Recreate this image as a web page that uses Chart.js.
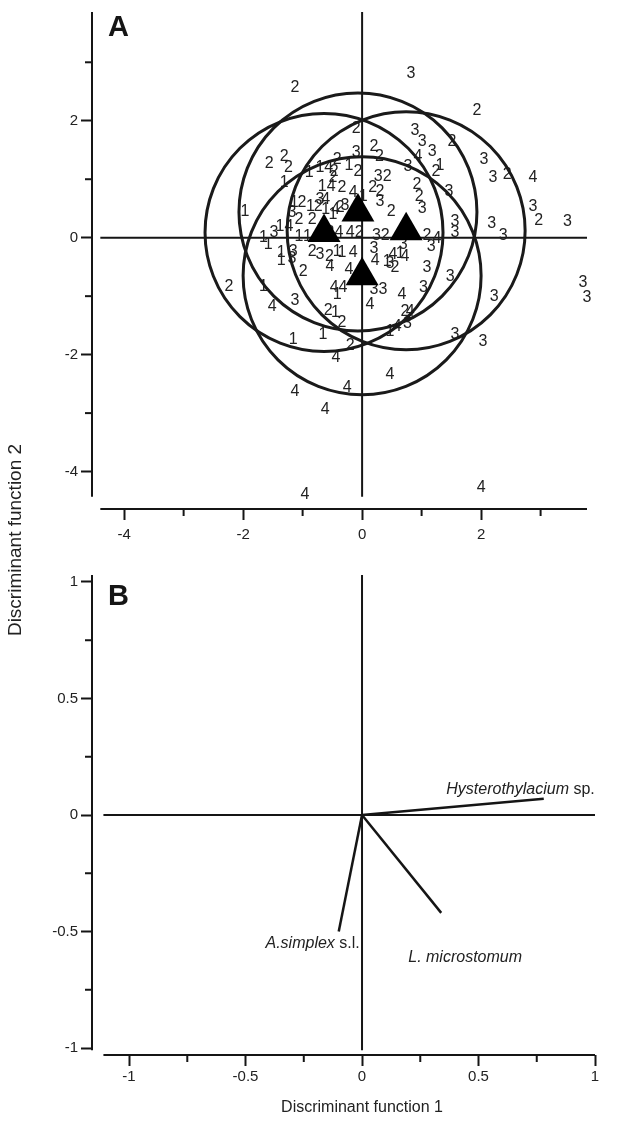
<!DOCTYPE html>
<html>
<head>
<meta charset="utf-8">
<script src="https://cdn.jsdelivr.net/npm/chart.js@4.4.1/dist/chart.umd.min.js"></script>
<style>
  body { margin: 0; background: #fff; }
  #wrap { position: relative; width: 622px; height: 1124px; }
  canvas { position: absolute; left: 0; top: 0; }
</style>
</head>
<body>
<div id="wrap">
  <canvas id="chartA" width="622" height="560"></canvas>
  <canvas id="chartB" width="622" height="1124"></canvas>
</div>
<script>
// ---- panel A: discriminant scores, [function 1, function 2] per fish, by group
const group1 = [
  [-1.31, 0.94], [-0.89, 1.11], [-0.71, 1.20], [-0.22, 1.23], [-0.67, 0.87], [0.02, 0.70],
  [-1.14, 0.60], [-0.87, 0.53], [-0.49, 0.39], [-1.97, 0.44], [-0.61, 0.48], [-1.38, 0.19],
  [-1.06, 0.02], [-0.92, 0.02], [-1.66, 0.00], [-1.58, -0.12], [-1.36, -0.26], [-1.36, -0.39],
  [-0.42, -0.24], [-0.34, -0.26], [-0.42, -0.97], [-1.66, -0.84], [-0.45, -1.28], [-0.66, -1.66],
  [-1.16, -1.74], [0.64, -0.27], [0.42, -0.41], [1.31, 1.23], [0.47, -1.61]
];
const group2 = [
  [-1.13, 2.56], [1.93, 2.17], [-0.10, 1.86], [0.20, 1.56], [0.29, 1.38], [-1.56, 1.26],
  [-1.31, 1.38], [-1.24, 1.20], [-0.47, 1.13], [-0.42, 1.33], [-0.07, 1.13], [-0.49, 1.03],
  [-0.34, 0.85], [0.18, 0.85], [0.30, 0.79], [0.49, 0.44], [0.42, 1.04], [-1.01, 0.60],
  [-0.74, 0.53], [-1.06, 0.31], [-0.84, 0.31], [-0.37, 0.51], [-0.54, 0.09], [-0.05, 0.09],
  [-0.84, -0.24], [-0.55, -0.32], [-0.99, -0.58], [-2.24, -0.84], [-0.57, -1.25], [-0.34, -1.45],
  [-0.20, -1.85], [0.92, 0.91], [0.96, 0.70], [1.51, 1.64], [1.24, 1.13], [2.44, 1.08],
  [2.97, 0.29], [0.39, 0.03], [1.09, 0.03], [0.55, -0.51], [0.72, -1.26]
];
const group3 = [
  [0.82, 2.80], [-0.10, 1.45], [0.30, 0.62], [0.27, 1.04], [-1.18, 0.43], [-0.71, 0.65],
  [-0.29, 0.55], [-1.48, 0.09], [-1.16, -0.24], [-1.18, -0.36], [-0.71, -0.29], [-1.13, -1.08],
  [0.20, -0.89], [0.35, -0.89], [0.77, 1.21], [1.01, 0.50], [0.24, 0.03], [1.16, -0.15],
  [0.20, -0.19], [0.47, -0.44], [0.69, -0.12], [1.09, -0.51], [1.48, -0.67], [1.03, -0.85],
  [1.56, 0.27], [1.56, 0.09], [0.89, 1.83], [1.01, 1.64], [1.18, 1.47], [1.46, 0.79],
  [2.05, 1.33], [2.20, 1.03], [2.87, 0.53], [3.45, 0.27], [2.18, 0.24], [2.37, 0.03],
  [2.22, -1.01], [1.56, -1.66], [2.03, -1.78], [3.71, -0.77], [3.78, -1.03], [0.76, -1.47]
];
const group4 = [
  [-0.56, 1.20], [-0.52, 0.87], [-0.61, 0.65], [-0.15, 0.77], [-1.23, 0.19], [-0.39, 0.09],
  [-0.20, 0.09], [-0.54, -0.50], [-0.15, -0.26], [-0.47, -0.85], [-0.32, -0.85], [-1.51, -1.18],
  [0.13, -1.15], [0.22, -0.39], [0.52, -0.29], [0.72, -0.32], [1.26, -0.02], [0.67, -0.97],
  [0.81, -1.26], [0.59, -1.52], [0.47, -2.34], [0.94, 1.38], [2.87, 1.03], [-0.44, -2.05],
  [-0.25, -2.56], [-1.13, -2.63], [-0.62, -2.94], [-0.96, -4.39], [2.00, -4.27], [-0.45, 0.48],
  [-0.22, -0.55]
];
const groups = [group1, group2, group3, group4];

// group centroids (triangles) and circle radii, discriminant units
const centroidX = [-0.64, -0.07, 0.74, 0.00];
const centroidY = [0.09, 0.44, 0.12, -0.65];
const circleR = [2.0, 2.0, 2.0, 2.0];

const ticksA = [-4, -2, 0, 2];
const minorA = [-3, -1, 1, 3];

// ---- panel B: variable loadings
const varNames = ['Hysterothylacium', 'A.simplex', 'L. microstomum'];
const varSuffix = [' sp.', ' s.l.', ''];
const loadX = [0.78, -0.10, 0.34];
const loadY = [0.07, -0.50, -0.42];

const ticksB = [-1, -0.5, 0, 0.5, 1];
const minorB = [-0.75, -0.25, 0.25, 0.75];

const FONT = '"Liberation Sans", Arial, sans-serif';
const INK = '#151515';

// axis lines, zero lines, minor ticks, panel letter, titles
const framePlugin = {
  id: 'frame',
  beforeDatasetsDraw(chart, args, o) {
    const { ctx, chartArea: a, scales: { x, y } } = chart;
    const px = v => x.getPixelForValue(v);
    const py = v => y.getPixelForValue(v);
    const seg = (x1, y1, x2, y2) => {
      ctx.beginPath(); ctx.moveTo(x1, y1); ctx.lineTo(x2, y2); ctx.stroke();
    };
    ctx.save();
    ctx.strokeStyle = INK;
    ctx.lineWidth = 2;
    seg(a.left, py(o.yTo), a.left, py(o.yFrom));
    seg(px(o.xFrom), a.bottom, px(o.xTo), a.bottom);
    seg(px(0), py(o.yTo), px(0), py(o.yFrom));
    seg(px(o.xFrom), py(0), px(o.xTo), py(0));
    o.minor.forEach(v => {
      seg(a.left - 7, py(v), a.left, py(v));
      seg(px(v), a.bottom, px(v), a.bottom + 7);
    });

    ctx.fillStyle = INK;
    ctx.font = 'bold 29px ' + FONT;
    ctx.textAlign = 'left';
    ctx.textBaseline = 'top';
    ctx.fillText(o.tag, a.left + 16, a.top + o.tagDy);

    ctx.fillStyle = '#222';
    ctx.textBaseline = 'middle';
    ctx.textAlign = 'center';
    if (o.xTitle) {
      ctx.font = '16px ' + FONT;
      ctx.fillText(o.xTitle, px(0), chart.height - 16);
    }
    if (o.yTitle) {
      ctx.font = '19px ' + FONT;
      ctx.translate(16, 540);
      ctx.rotate(-Math.PI / 2);
      ctx.fillText(o.yTitle, 0, 0);
    }
    ctx.restore();
  }
};

// group numbers written at each score
const digitPlugin = {
  id: 'digits',
  beforeDatasetsDraw(chart) {
    const ctx = chart.ctx;
    ctx.save();
    ctx.font = '16px ' + FONT;
    ctx.fillStyle = '#222';
    ctx.textAlign = 'center';
    ctx.textBaseline = 'middle';
    chart.data.datasets.forEach((ds, i) => {
      if (!ds.digit) return;
      chart.getDatasetMeta(i).data.forEach(pt => ctx.fillText(ds.digit, pt.x, pt.y));
    });
    ctx.restore();
  }
};

// label offsets from the arrow tip: dx, dy, alignment
const labelPos = [[51, -9, 'right'], [21, 12, 'right'], [-33, 45, 'left']];
const vectorLabelPlugin = {
  id: 'vecLabels',
  afterDatasetsDraw(chart) {
    const ctx = chart.ctx;
    ctx.save();
    ctx.fillStyle = '#222';
    ctx.textBaseline = 'middle';
    ctx.textAlign = 'left';
    chart.data.datasets.forEach((ds, i) => {
      const tip = chart.getDatasetMeta(i).data[1];
      const [dx, dy, align] = labelPos[i];
      ctx.font = 'italic 16px ' + FONT;
      const w1 = ctx.measureText(varNames[i]).width;
      ctx.font = '16px ' + FONT;
      const w2 = ctx.measureText(varSuffix[i]).width;
      let x0 = tip.x + dx;
      if (align === 'right') x0 -= w1 + w2;
      const y0 = tip.y + dy;
      ctx.font = 'italic 16px ' + FONT;
      ctx.fillText(varNames[i], x0, y0);
      ctx.font = '16px ' + FONT;
      ctx.fillText(varSuffix[i], x0 + w1, y0);
    });
    ctx.restore();
  }
};

function circlePx(ctx) {
  const s = ctx.chart.scales.x;
  const r = circleR[ctx.dataIndex];
  if (r === undefined) return 0;
  return Math.abs(s.getPixelForValue(r) - s.getPixelForValue(0));
}

function axis(min, max, ticks, fit) {
  return {
    type: 'linear',
    min: min,
    max: max,
    afterBuildTicks: s => { s.ticks = ticks.map(v => ({ value: v })); },
    afterFit: s => {
      fit(s);
      // keep the plot area where the layout padding puts it
      s.paddingTop = 0; s.paddingBottom = 0; s.paddingLeft = 0; s.paddingRight = 0;
    },
    grid: { drawOnChartArea: false, tickLength: 11, tickWidth: 2, tickColor: INK },
    border: { display: false },
    ticks: {
      padding: 3,
      color: '#222',
      autoSkip: false,
      maxRotation: 0,
      includeBounds: false,
      callback: v => String(v),
      font: { size: 15, family: FONT }
    }
  };
}

const base = {
  responsive: false,
  animation: false,
  events: [],
  plugins: { legend: { display: false }, tooltip: { enabled: false } }
};

const centroids = centroidX.map((x, i) => ({ x: x, y: centroidY[i] }));

const xA = axis(-4.54, 3.78, ticksA, s => { s.height = 51; });
xA.ticks.padding = 6;
new Chart(document.getElementById('chartA'), {
  type: 'scatter',
  data: {
    datasets: [
      ...groups.map((g, i) => ({
        label: 'Group ' + (i + 1),
        digit: String(i + 1),
        data: g.map(p => ({ x: p[0], y: p[1] })),
        pointRadius: 0
      })),
      {
        label: 'circles',
        data: centroids,
        order: 2,
        clip: false,
        pointRadius: circlePx,
        pointBackgroundColor: 'rgba(0,0,0,0)',
        pointBorderColor: '#1a1a1a',
        pointBorderWidth: 3
      },
      {
        label: 'centroids',
        data: centroids,
        order: 1,
        pointStyle: 'triangle',
        pointRadius: 19,
        pointBackgroundColor: '#000',
        pointBorderWidth: 0
      }
    ]
  },
  options: {
    ...base,
    layout: { autoPadding: false, padding: { top: 12, right: 35, left: 0, bottom: 0 } },
    scales: {
      x: xA,
      y: axis(-4.64, 3.86, ticksA, s => { s.width = 92; })
    },
    plugins: {
      ...base.plugins,
      frame: { tag: 'A', tagDy: 1, xFrom: -4.40, xTo: 3.78, yFrom: -4.43, yTo: 3.86, minor: minorA }
    }
  },
  plugins: [framePlugin, digitPlugin]
});

const xB = axis(-1.159, 1.0, ticksB, s => { s.height = 69; });
xB.ticks.padding = 2;
new Chart(document.getElementById('chartB'), {
  type: 'scatter',
  data: {
    datasets: varNames.map((n, i) => ({
      label: n + varSuffix[i],
      data: [{ x: 0, y: 0 }, { x: loadX[i], y: loadY[i] }],
      showLine: true,
      borderColor: INK,
      borderWidth: 2.5,
      pointRadius: 0
    }))
  },
  options: {
    ...base,
    layout: { autoPadding: false, padding: { top: 575, right: 27, left: 0, bottom: 0 } },
    scales: {
      x: xB,
      y: axis(-1.03, 1.03, ticksB, s => { s.width = 92; })
    },
    plugins: {
      ...base.plugins,
      frame: {
        tag: 'B', tagDy: 7, xFrom: -1.11, xTo: 1.0, yFrom: -1.01, yTo: 1.03, minor: minorB,
        xTitle: 'Discriminant function 1', yTitle: 'Discriminant function 2'
      }
    }
  },
  plugins: [framePlugin, vectorLabelPlugin]
});
</script>
</body>
</html>
